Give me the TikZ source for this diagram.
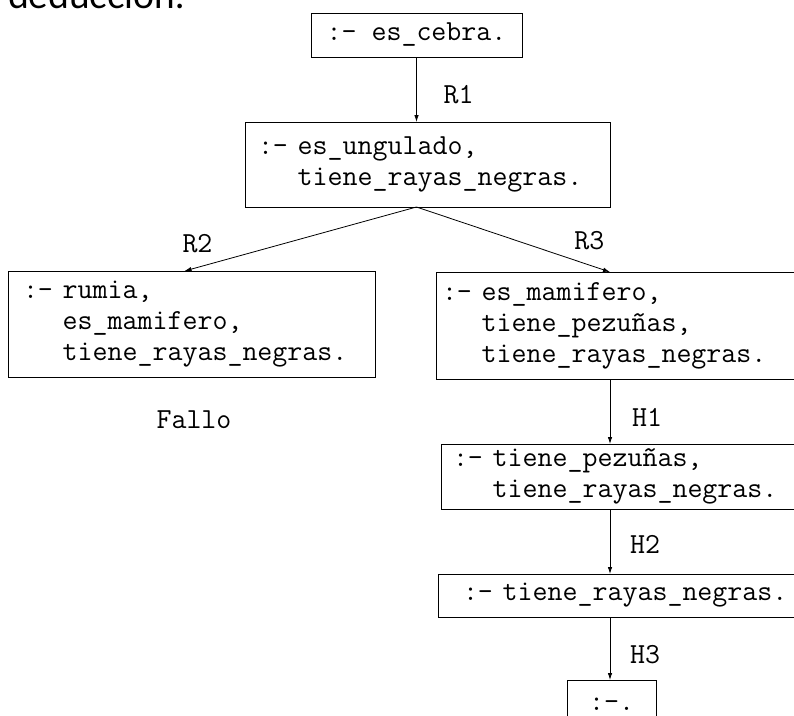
\documentclass[tikz,border=0pt]{standalone}
\usepackage{fontspec}
\newfontfamily\titlefont{Lato}
\usetikzlibrary{arrows.meta}

\tikzstyle{goal} = [rectangle, draw=black, line width=0.8pt, anchor=north west,
align=left, inner ysep=0pt, outer sep=0pt]
\tikzstyle{lbl} = [inner sep=0pt]
\tikzstyle{arrow} = [line width=0.8pt,-{Latex[length=7pt,width=4.5pt]}]

\begin{document}
\begin{tikzpicture}[x=1pt, y=-1pt, every node/.style={font=\ttfamily\fontsize{29.1}{31}\selectfont}]
			\clip (0,0) rectangle (794,715);
			\coordinate (spine) at (610,0);
			\node (titulo) [anchor=base west, inner sep=0pt, font=\titlefont\fontsize{37}{40}\selectfont] at (8,8) {deducción:};
			\node (esCebra) [goal, align=center, minimum width=211pt, minimum height=44pt] at (311,13) {:- es\_cebra.};
			\node (esUngulado) [goal, inner xsep=13pt, text width=339pt, minimum height=85pt] at (245,122) {:- es\_ungulado,\\\hphantom{:- }tiene\_rayas\_negras.};
			\node (rumia) [goal, inner xsep=15pt, text width=337pt, minimum height=106pt] at (8,271) {:- rumia,\\\hphantom{:- }es\_mamifero,\\\hphantom{:- }tiene\_rayas\_negras.};
			\node (esMamifero) [goal, inner xsep=6pt, text width=388pt, minimum height=107pt] at (436,272) {:- es\_mamifero,\\\hphantom{:- }tiene\_pezuñas,\\\hphantom{:- }tiene\_rayas\_negras.};
			\node (fallo) at (194,420) {Fallo};
			\node (tienePezunas) [goal, inner xsep=12pt, text width=376pt, minimum height=65pt] at (441,444) {:- tiene\_pezuñas,\\\hphantom{:- }tiene\_rayas\_negras.};
			\node (tieneRayas) [goal, inner xsep=25pt, text width=350pt, minimum height=43pt] at (438,574) {:- tiene\_rayas\_negras.};
			\node (vacio) [goal, align=center, minimum width=89pt, minimum height=48pt] at (567,680) {:-.};
			
			\draw [arrow] (esCebra) -- node (lblR1) [lbl, pos=0.58, xshift=42pt] {R1} (esCebra |- esUngulado.north);
			\draw [arrow] (esUngulado.south -| esCebra) -- node (lblR2) [lbl, pos=0.944, yshift=24pt] {R2} ([xshift=-7pt]rumia.north);
			\draw [arrow] (esUngulado.south -| esCebra) -- node (lblR3) [lbl, pos=0.893, yshift=24pt] {R3} (esMamifero.north -| spine);
			\draw [arrow] (esMamifero.south -| spine) -- node (lblH1) [lbl, pos=0.585, xshift=37pt] {H1} (tienePezunas.north -| spine);
			\draw [arrow] (tienePezunas.south -| spine) -- node (lblH2) [lbl, pos=0.55, xshift=35pt] {H2} (tieneRayas.north -| spine);
			\draw [arrow] (tieneRayas.south -| spine) -- node (lblH3) [lbl, pos=0.6, xshift=35pt] {H3} (vacio.north -| spine);
			
		\end{tikzpicture}
\end{document}
